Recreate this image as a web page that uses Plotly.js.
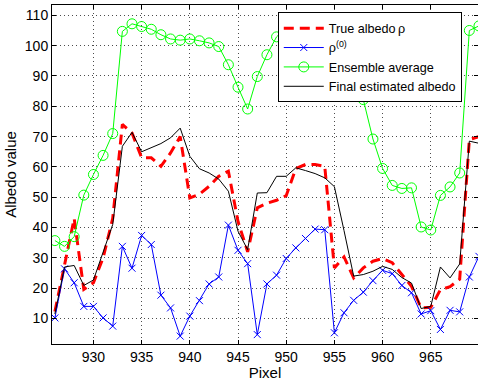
<!DOCTYPE html>
<html>
<head>
<meta charset="utf-8">
<script src="https://cdn.plot.ly/plotly-3.0.1.min.js"></script>
<style>html,body{margin:0;padding:0;background:#fff;}#chart{width:478px;height:381px;}</style>
</head>
<body>
<div id="chart"></div>
<script>
// Pixel positions
const pixels = [926,927,928,929,930,931,932,933,934,935,936,937,938,939,940,941,942,943,944,945,946,947,948,949,950,951,952,953,954,955,956,957,958,959,960,961,962,963,964,965,966,967,968,969,970];

// True albedo rho
const trueAlbedo = [12.3,28,43,19.6,21.8,30,43,74,71.2,63,63,60.2,64.6,70,49.8,51,53.6,56.9,58.6,42,32,46.5,48,49,50.5,59.5,60.8,60.8,60.2,26.7,30.3,23.4,26.7,28.9,29.8,28.4,24.5,20.6,13.5,13.7,19.5,20.5,23,69,70];

// rho^(0)
const rho0 = [10.2,26.4,21.8,14,14,10.2,7.5,33.8,26.6,37.4,34.4,17.7,13.5,4.2,10.8,15.9,21.4,23.7,40.8,32.5,28.1,4.7,21.4,24.3,29.8,33.3,36.4,39.5,39.3,5.3,11.9,16,18.7,22.5,25.9,24.8,20.9,18.5,11.5,12.6,6.4,12.7,12.2,23.7,30.5];

// Ensemble average
const ensemble = [35.7,33.8,37,50.7,57.5,63.8,71,104.7,107.2,106.3,105.4,103.6,102.2,101.8,102.2,101.6,100.9,99.7,93.7,86.3,79.1,89.8,97,102.9,106,107.5,108,108,107,106,103,93,82.2,69.2,59.5,53.9,52.9,53.1,40.2,39.2,50.6,53.4,58,105,106.5];

// Final estimated albedo
const finalEst = [11.5,27,27.5,20.9,22.7,31.5,41,66.8,71.4,65,66.3,67.7,69.6,72.8,63.5,59.4,58,56,52,38.8,32.7,51.4,51.5,56.9,56.9,59.7,58.8,57.8,56.4,53.5,39,24,24.5,25.6,27.2,26.2,23.5,21.7,13.3,14,27,23.4,28,68.5,67.8];

const font = "'Liberation Sans', Arial, sans-serif";

const traces = [
  {x: pixels, y: trueAlbedo, name: 'True albedo\u2009\u03c1', mode: 'lines',
   line: {color: '#ff0000', width: 3, dash: '10px,6px'}},
  {x: pixels, y: rho0, name: '\u03c1<sup>(0)</sup>', mode: 'lines+markers',
   line: {color: '#0000ff', width: 1},
   marker: {symbol: 'x-thin-open', size: 7, color: '#0000ff', line: {color: '#0000ff', width: 1}}},
  {x: pixels, y: ensemble, name: 'Ensemble average', mode: 'lines+markers',
   line: {color: '#00ff00', width: 1},
   marker: {symbol: 'circle-open', size: 10, color: '#00ff00', line: {color: '#00ff00', width: 1}}},
  {x: pixels, y: finalEst, name: 'Final estimated albedo', mode: 'lines',
   line: {color: '#000000', width: 1}}
];

const axisCommon = {
  showline: true, linecolor: '#000', linewidth: 1, mirror: 'allticks',
  ticks: 'inside', ticklen: 4, tickcolor: '#000',
  showgrid: true, gridcolor: 'rgba(0,0,0,0.7)', gridwidth: 1, griddash: '1px,3px',
  zeroline: false, tickfont: {family: font, size: 14, color: '#000'}
};

const layout = {
  width: 478, height: 381,
  margin: {l: 52, r: 0, t: 5, b: 37},
  paper_bgcolor: '#fff', plot_bgcolor: '#fff',
  showlegend: true,
  xaxis: Object.assign({}, axisCommon, {
    range: [925.7, 969.9], tickvals: [930,935,940,945,950,955,960,965],
    title: {text: 'Pixel', font: {family: font, size: 15, color: '#000'}, standoff: 2}
  }),
  yaxis: Object.assign({}, axisCommon, {
    range: [1.6, 113.4], tickvals: [10,20,30,40,50,60,70,80,90,100,110],
    title: {text: 'Albedo value', font: {family: font, size: 15, color: '#000'}, standoff: 4}
  }),
  legend: {
    x: 0.53, y: 0.978, xanchor: 'left', yanchor: 'top',
    bgcolor: '#fff', bordercolor: '#000', borderwidth: 1,
    font: {family: font, size: 12.6, color: '#000'},
    itemwidth: 40, tracegroupgap: 0
  }
};

Plotly.newPlot('chart', traces, layout, {displayModeBar: false, staticPlot: true});
</script>
</body>
</html>
